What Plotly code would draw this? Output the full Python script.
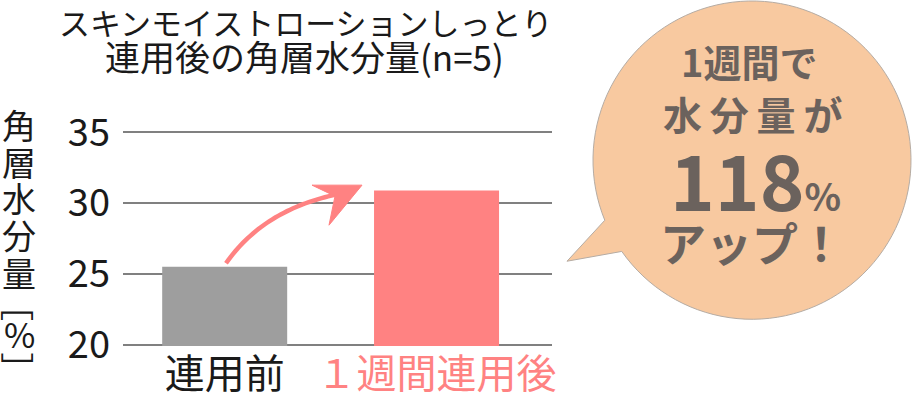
import numpy as np
import plotly.graph_objects as go

# ---- data ----
categories = ["連用前", "１週間連用後"]
values = [25.5, 30.9]
bar_colors = ["#9e9e9e", "#ff8282"]
tick_colors = ["#1a1a1a", "#ff8282"]
y_ticks = [20, 25, 30, 35]
title_lines = ["スキンモイストローションしっとり", "連用後の角層水分量(n=5)"]
y_title_chars = ["角", "層", "水", "分", "量", "［", "%", "］"]
bubble_lines = ["1週間で", "水\u2009分\u2009量\u2009が", "118", "アップ！"]

W, H = 913, 400
# plot area in pixels
L, R, T, B = 123, 552, 130.9, 345.7


def px(x):
    return (x - L) / (R - L)


def py(y):
    return (B - y) / (B - T)


FONT = "Noto Sans CJK JP"

fig = go.Figure()
fig.add_trace(go.Bar(
    x=categories, y=values,
    marker=dict(color=bar_colors, line=dict(width=0)),
    width=0.59, hoverinfo="skip",
))

ticktext = [f"<span style='color:{c}'>{t}</span>" for t, c in zip(categories, tick_colors)]

fig.update_layout(
    template="none",
    width=W, height=H,
    margin=dict(l=L, r=W - R, t=T, b=H - B, pad=0, autoexpand=False),
    paper_bgcolor="white", plot_bgcolor="white",
    showlegend=False,
    font=dict(family=FONT, color="#1a1a1a"),
    xaxis=dict(
        range=[-0.48, 1.545], tickmode="array", tickvals=categories, ticktext=ticktext,
        tickfont=dict(size=40, family=FONT), showgrid=False, zeroline=False,
        showline=False, ticks="", ticklabelstandoff=1, automargin=False,
    ),
    yaxis=dict(
        range=[19.9, 35.1], tickmode="array", tickvals=y_ticks,
        tickfont=dict(size=38, family=FONT, color="#1a1a1a"),
        showgrid=True, gridcolor="#808080", gridwidth=2, zeroline=False,
        showline=False, ticks="", ticklabelstandoff=12, automargin=False,
    ),
)

shapes = []

# speech bubble (decoration)
cx, cy, r = 752, 160, 159
a_start = np.deg2rad(157.8)
a_end = np.deg2rad(145 + 360)
angs = np.linspace(a_start, a_end, 120)
pts = [(cx + r * np.cos(a), cy + r * np.sin(a)) for a in angs]
pts.append((567, 261))
path = "M " + " L ".join(f"{px(x):.5f},{py(y):.5f}" for x, y in pts) + " Z"
shapes.append(dict(type="path", xref="paper", yref="paper", path=path,
                   fillcolor="#f8c9a0", line=dict(color="#b5aca4", width=1), layer="below"))

# curved arrow (decoration)
p0, c1, c2, p1 = (226, 263), (255, 222), (295, 203), (338, 194)
ts = np.linspace(0, 1, 40)
curve = [((1 - t) ** 3 * p0[0] + 3 * (1 - t) ** 2 * t * c1[0] + 3 * (1 - t) * t ** 2 * c2[0] + t ** 3 * p1[0],
          (1 - t) ** 3 * p0[1] + 3 * (1 - t) ** 2 * t * c1[1] + 3 * (1 - t) * t ** 2 * c2[1] + t ** 3 * p1[1]) for t in ts]
cpath = "M " + " L ".join(f"{px(x):.5f},{py(y):.5f}" for x, y in curve)
shapes.append(dict(type="path", xref="paper", yref="paper", path=cpath,
                   line=dict(color="#ff8282", width=4.5)))
head = [(312, 185), (362, 185), (329, 225), (335, 196)]
hpath = "M " + " L ".join(f"{px(x):.5f},{py(y):.5f}" for x, y in head) + " Z"
shapes.append(dict(type="path", xref="paper", yref="paper", path=hpath,
                   fillcolor="#ff8282", line=dict(color="#ff8282", width=1)))

fig.update_layout(shapes=shapes)

ann = []
# title
ann.append(dict(text=title_lines[0], x=px(306), y=py(22), font=dict(size=31, family=FONT, color="#1a1a1a")))
ann.append(dict(text=title_lines[1], x=px(304), y=py(55), font=dict(size=35, family=FONT, color="#1a1a1a")))

# y-axis title, stacked vertically (brackets rotated as in vertical writing)
ychar_y = [124, 161, 197, 234, 272, 304, 333, 369]
ychar_size = [34, 34, 34, 34, 34, 34, 34, 34]
ychar_angle = [0, 0, 0, 0, 0, 90, 0, 90]
for ch, yy, sz, ang in zip(y_title_chars, ychar_y, ychar_size, ychar_angle):
    ann.append(dict(text=ch, x=px(19), y=py(yy), textangle=ang,
                    font=dict(size=sz, family=FONT, color="#1a1a1a")))

# bubble text
BC = "#6b625d"
ann.append(dict(text=f"<b>{bubble_lines[0]}</b>", x=px(749), y=py(60), font=dict(size=38, family=FONT, color=BC)))
ann.append(dict(text=f"<b>{bubble_lines[1]}</b>", x=px(752), y=py(113), font=dict(size=39, family=FONT, color=BC)))
ann.append(dict(text=f"<b>{bubble_lines[2]}<span style='font-size:38px'>%</span></b>", x=px(755), y=py(178),
                font=dict(size=76, family=FONT, color=BC)))
ann.append(dict(text=f"<b>{bubble_lines[3]}</b>", x=px(752), y=py(241), font=dict(size=46, family=FONT, color=BC)))

for a in ann:
    a.update(xref="paper", yref="paper", showarrow=False, xanchor="center", yanchor="middle")
fig.update_layout(annotations=ann)

fig.write_html("out.html", config={"displayModeBar": False, "staticPlot": True},
               post_script="document.body.style.margin='0';")
